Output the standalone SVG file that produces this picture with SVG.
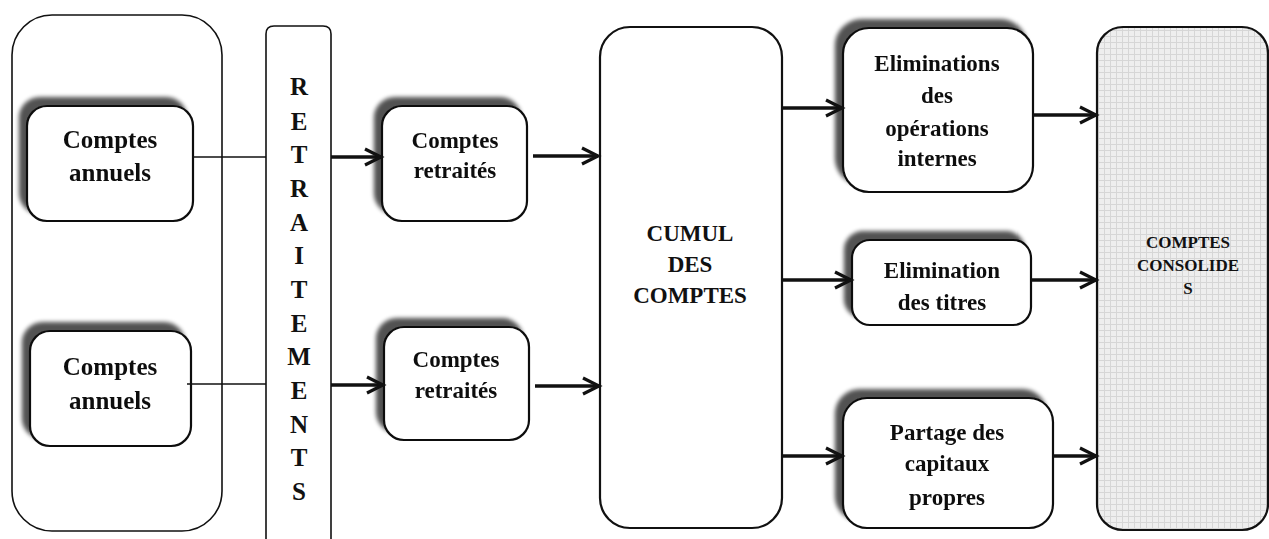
<svg xmlns="http://www.w3.org/2000/svg" width="1269" height="539" viewBox="0 0 1269 539">
<style>
.box{fill:#fff;stroke:#111;stroke-width:2.2}
.thin{fill:#fff;stroke:#111;stroke-width:1.6}
.t{font-family:"Liberation Serif","Times New Roman",serif;font-weight:bold;fill:#111;text-anchor:middle}
.f26{font-size:25px}
.f24{font-size:23px}
.f17{font-size:17px}
.con{stroke:#111;fill:none}
.arr{stroke-width:3.4;marker-end:url(#ah)}
.ln{stroke-width:1.6}
</style>
<defs>
<filter id="sh" x="-20%" y="-20%" width="140%" height="140%">
<feGaussianBlur in="SourceAlpha" stdDeviation="2" result="b"/>
<feOffset in="b" dx="-7" dy="-8" result="o"/>
<feComponentTransfer in="o" result="s"><feFuncA type="linear" slope="0.68"/></feComponentTransfer>
<feMerge><feMergeNode in="s"/><feMergeNode in="SourceGraphic"/></feMerge>
</filter>
<marker id="ah" markerUnits="userSpaceOnUse" markerWidth="24" markerHeight="24" refX="19" refY="11" orient="auto">
<path d="M3,3 L19,11 L3,19" fill="none" stroke="#111" stroke-width="3.2" stroke-linejoin="miter"/>
</marker>
<pattern id="tex" width="6" height="6" patternUnits="userSpaceOnUse">
<rect width="6" height="6" fill="#eeeeee"/>
<path d="M0,0.5H6M0.5,0V6" stroke="#d6d6d6" stroke-width="1"/>
</pattern>
</defs>

<g id="groupe">
<rect class="thin" x="12" y="15" width="210" height="516" rx="40"/>
</g>

<g id="comptes-annuels-1" filter="url(#sh)">
<rect class="box" x="27" y="106" width="166" height="115" rx="20"/>
<text class="t f26" x="110" y="148">Comptes</text>
<text class="t f26" x="110" y="181">annuels</text>
</g>

<g id="comptes-annuels-2" filter="url(#sh)">
<rect class="box" x="30" y="331" width="161" height="115" rx="20"/>
<text class="t f26" x="110" y="375">Comptes</text>
<text class="t f26" x="110" y="409">annuels</text>
</g>

<g id="retraitements">
<path class="thin" d="M266,545 V34 Q266,26 274,26 H323 Q331,26 331,34 V545"/>
<text class="t f26" x="299" y="95">R</text>
<text class="t f26" x="299" y="130">E</text>
<text class="t f26" x="299" y="163">T</text>
<text class="t f26" x="299" y="197">R</text>
<text class="t f26" x="299" y="231">A</text>
<text class="t f26" x="299" y="264">I</text>
<text class="t f26" x="299" y="298">T</text>
<text class="t f26" x="299" y="332">E</text>
<text class="t f26" x="299" y="365">M</text>
<text class="t f26" x="299" y="399">E</text>
<text class="t f26" x="299" y="433">N</text>
<text class="t f26" x="299" y="466">T</text>
<text class="t f26" x="299" y="500">S</text>
</g>

<g id="comptes-retraites-1" filter="url(#sh)">
<rect class="box" x="382" y="106" width="145" height="115" rx="20"/>
<text class="t f24" x="455" y="148">Comptes</text>
<text class="t f24" x="455" y="178">retraités</text>
</g>

<g id="comptes-retraites-2" filter="url(#sh)">
<rect class="box" x="384" y="327" width="145" height="113" rx="20"/>
<text class="t f24" x="456" y="367">Comptes</text>
<text class="t f24" x="456" y="398">retraités</text>
</g>

<g id="cumul">
<rect class="box" x="600" y="27" width="182" height="501" rx="30"/>
<text class="t f24" x="690" y="241">CUMUL</text>
<text class="t f24" x="690" y="272">DES</text>
<text class="t f24" x="690" y="303">COMPTES</text>
</g>

<g id="eliminations-internes" filter="url(#sh)">
<rect class="box" x="843" y="28" width="190" height="164" rx="26"/>
<text class="t f24" x="937" y="71">Eliminations</text>
<text class="t f24" x="937" y="103">des</text>
<text class="t f24" x="937" y="136">opérations</text>
<text class="t f24" x="937" y="166">internes</text>
</g>

<g id="elimination-titres" filter="url(#sh)">
<rect class="box" x="852" y="240" width="179" height="85" rx="18"/>
<text class="t f24" x="942" y="278">Elimination</text>
<text class="t f24" x="942" y="310">des titres</text>
</g>

<g id="partage" filter="url(#sh)">
<rect class="box" x="843" y="398" width="210" height="130" rx="24"/>
<text class="t f24" x="947" y="440">Partage des</text>
<text class="t f24" x="947" y="471">capitaux</text>
<text class="t f24" x="947" y="505">propres</text>
</g>

<g id="comptes-consolides">
<rect x="1097" y="27" width="171" height="503" rx="26" fill="url(#tex)" stroke="#111" stroke-width="2.2"/>
<text class="t f17" x="1188" y="248">COMPTES</text>
<text class="t f17" x="1188" y="271">CONSOLIDE</text>
<text class="t f17" x="1188" y="294">S</text>
</g>

<g id="connecteurs" class="con">
<line class="ln" x1="193" y1="157" x2="266" y2="157"/>
<line class="ln" x1="187" y1="384" x2="266" y2="384"/>
<line class="arr" x1="331" y1="157" x2="381" y2="157"/>
<line class="arr" x1="331" y1="385" x2="383" y2="385"/>
<line class="arr" x1="533" y1="156" x2="598" y2="156"/>
<line class="arr" x1="535" y1="386" x2="599" y2="386"/>
<line class="arr" x1="782" y1="108" x2="842" y2="108"/>
<line class="arr" x1="782" y1="280" x2="851" y2="280"/>
<line class="arr" x1="782" y1="456" x2="842" y2="456"/>
<line class="arr" x1="1033" y1="115" x2="1096" y2="115"/>
<line class="arr" x1="1031" y1="280" x2="1096" y2="280"/>
<line class="arr" x1="1053" y1="456" x2="1096" y2="456"/>
</g>
</svg>
